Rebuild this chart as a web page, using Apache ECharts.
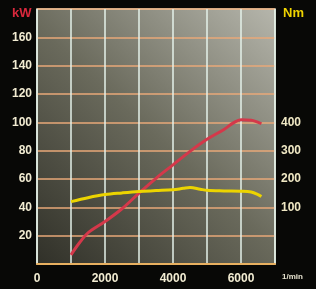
<!DOCTYPE html>
<html>
<head>
<meta charset="utf-8">
<script src="https://cdn.jsdelivr.net/npm/echarts@6/dist/echarts.min.js"></script>
<style>
  html, body { margin: 0; padding: 0; background: #080806; }
  #chart { width: 316px; height: 289px; }
</style>
</head>
<body>
<div id="chart"></div>
<script>
// power curve (kW) over engine speed
const powerRpm = [1000, 1250, 1500, 2000, 2500, 3000, 3500, 4000, 4500, 5000, 5500, 5800, 6000, 6300, 6600];
const powerKw = [6.5, 15, 22, 30, 39, 50, 60.5, 70, 79.5, 88, 95, 100, 101.8, 101.5, 99];

// torque curve (Nm) over engine speed
const torqueRpm = [1000, 1500, 2000, 2500, 3000, 3500, 4000, 4300, 4500, 4800, 5000, 5500, 6000, 6300, 6500, 6600];
const torqueNm = [120, 134, 145, 151, 156, 159, 162, 167, 170, 164, 160, 158, 157, 154, 145, 138];

// tick labels that are printed
const rpmLabels = [0, 2000, 4000, 6000];
const kwLabels = [20, 40, 60, 80, 100, 120, 140, 160];
const nmLabels = [100, 200, 300, 400];

const chart = echarts.init(document.getElementById('chart'));

const labelFont = {
  color: '#f2ecd2',
  fontFamily: 'Liberation Sans, Arial, sans-serif',
  fontWeight: 'bold',
  fontSize: 12
};

const option = {
  backgroundColor: '#080806',
  animation: false,
  grid: {
    left: 37,
    right: 41,
    top: 9,
    bottom: 25,
    show: true,
    borderWidth: 1.5,
    borderColor: '#e6ead8',
    backgroundColor: new echarts.graphic.LinearGradient(0, 1, 1, 0, [
      { offset: 0, color: '#303028' },
      { offset: 0.5, color: '#6a6a5c' },
      { offset: 1, color: '#b6b6ac' }
    ])
  },
  xAxis: {
    type: 'value',
    min: 0,
    max: 7000,
    interval: 1000,
    axisLine: { show: true, lineStyle: { color: '#e8b060', width: 2 } },
    axisTick: { show: false },
    axisLabel: {
      ...labelFont,
      margin: 9,
      formatter: v => (rpmLabels.includes(v) ? String(v) : '')
    },
    splitLine: { show: true, lineStyle: { color: '#e4f2ea', width: 1.5 } }
  },
  yAxis: [
    {
      type: 'value',
      min: 0,
      max: 180,
      interval: 20,
      axisLine: { show: false },
      axisTick: { show: false },
      axisLabel: {
        ...labelFont,
        margin: 5,
        formatter: v => (kwLabels.includes(v) ? String(v) : '')
      },
      splitLine: { show: true, lineStyle: { color: '#e8a878', width: 1.5 } }
    },
    {
      type: 'value',
      min: -100,
      max: 800,
      interval: 100,
      position: 'right',
      axisLine: { show: false },
      axisTick: { show: false },
      axisLabel: {
        ...labelFont,
        color: '#f0e8c4',
        margin: 6,
        formatter: v => (nmLabels.includes(v) ? String(v) : '')
      },
      splitLine: { show: false }
    }
  ],
  graphic: [
    {
      type: 'text', left: 12, top: 7,
      style: { text: 'kW', fill: '#d8283c', font: 'bold 13px Liberation Sans, Arial, sans-serif' }
    },
    {
      type: 'text', left: 283, top: 7,
      style: { text: 'Nm', fill: '#f0d400', font: 'bold 13px Liberation Sans, Arial, sans-serif' }
    },
    {
      type: 'text', left: 282, top: 273,
      style: { text: '1/min', fill: '#e8e4d0', font: 'bold 8px Liberation Sans, Arial, sans-serif' }
    }
  ],
  series: [
    {
      name: 'kW',
      type: 'line',
      yAxisIndex: 0,
      smooth: 0.35,
      showSymbol: false,
      data: powerRpm.map((r, i) => [r, powerKw[i]]),
      lineStyle: { color: '#d4384a', width: 3 }
    },
    {
      name: 'Nm',
      type: 'line',
      yAxisIndex: 1,
      smooth: 0.35,
      showSymbol: false,
      data: torqueRpm.map((r, i) => [r, torqueNm[i]]),
      lineStyle: { color: '#ecd400', width: 3 }
    }
  ]
};

chart.setOption(option);
</script>
</body>
</html>
